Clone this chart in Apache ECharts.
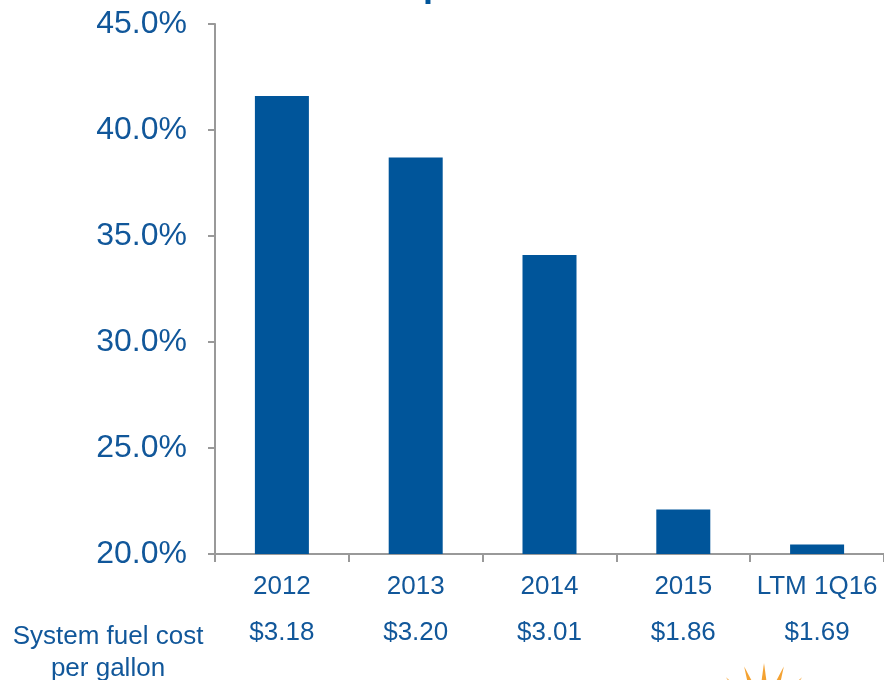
<!DOCTYPE html>
<html>
<head>
<meta charset="utf-8">
<script src="https://cdn.jsdelivr.net/npm/echarts@6/dist/echarts.min.js"></script>
<style>
  html, body { margin: 0; padding: 0; background: #fff; }
  #chart { width: 884px; height: 680px; }
</style>
</head>
<body>
<div id="chart"></div>
<script>
var years = ['2012', '2013', '2014', '2015', 'LTM 1Q16'];
var fuelShare = [41.6, 38.7, 34.1, 22.1, 20.45];
var costPerGallon = ['$3.18', '$3.20', '$3.01', '$1.86', '$1.69'];

var blue = '#00559A';
var txt = '#11579A';
var fontFam = '"Liberation Sans", Arial, sans-serif';

var myChart = echarts.init(document.getElementById('chart'));

// decorative sun rays at the bottom edge
var rays = [];
[-41, -20, 0, 20, 41].forEach(function (deg) {
  var a = deg * Math.PI / 180;
  var cx = 764, cy = 721, r0 = 30, r1 = 58, w = 0.13;
  rays.push({
    type: 'polygon',
    shape: { points: [
      [cx + Math.sin(a - w) * r0, cy - Math.cos(a - w) * r0],
      [cx + Math.sin(a) * r1, cy - Math.cos(a) * r1],
      [cx + Math.sin(a + w) * r0, cy - Math.cos(a + w) * r0]
    ] },
    style: { fill: '#F4A232' }
  });
});

var option = {
  animation: false,
  grid: { left: 215, right: -1, top: 24, bottom: 126 },
  xAxis: [{
    type: 'category',
    data: years,
    axisLine: { lineStyle: { color: '#999', width: 2 } },
    axisTick: { show: true, interval: 0, length: 8, lineStyle: { color: '#999', width: 2 } },
    axisLabel: { interval: 0, color: txt, fontSize: 26, fontFamily: fontFam, margin: 20 }
  }, {
    type: 'category',
    data: costPerGallon,
    position: 'bottom',
    offset: 48,
    axisLine: { show: false },
    axisTick: { show: false },
    axisLabel: { interval: 0, color: txt, fontSize: 26, fontFamily: fontFam, margin: 18 }
  }],
  yAxis: {
    type: 'value',
    min: 20,
    max: 45,
    interval: 5,
    axisLine: { show: true, lineStyle: { color: '#999', width: 2 } },
    axisTick: { show: true, length: 7, lineStyle: { color: '#999', width: 2 } },
    splitLine: { show: false },
    axisLabel: {
      color: txt, fontSize: 32, fontFamily: fontFam, margin: 28,
      formatter: function (v) { return v.toFixed(1) + '%'; }
    }
  },
  series: [{
    type: 'bar',
    data: fuelShare,
    barWidth: 54,
    itemStyle: { color: blue }
  }],
  graphic: [{
    type: 'text',
    x: 108,
    y: 621,
    style: {
      text: 'System fuel cost\nper gallon',
      fill: txt,
      font: '26px ' + fontFam,
      textAlign: 'center',
      lineHeight: 32
    }
  }, {
    type: 'text',
    x: 423,
    y: -32,
    style: { text: 'p', fill: blue, font: 'bold 36px ' + fontFam }
  }, {
    type: 'group',
    children: rays
  }]
};

myChart.setOption(option);
</script>
</body>
</html>
